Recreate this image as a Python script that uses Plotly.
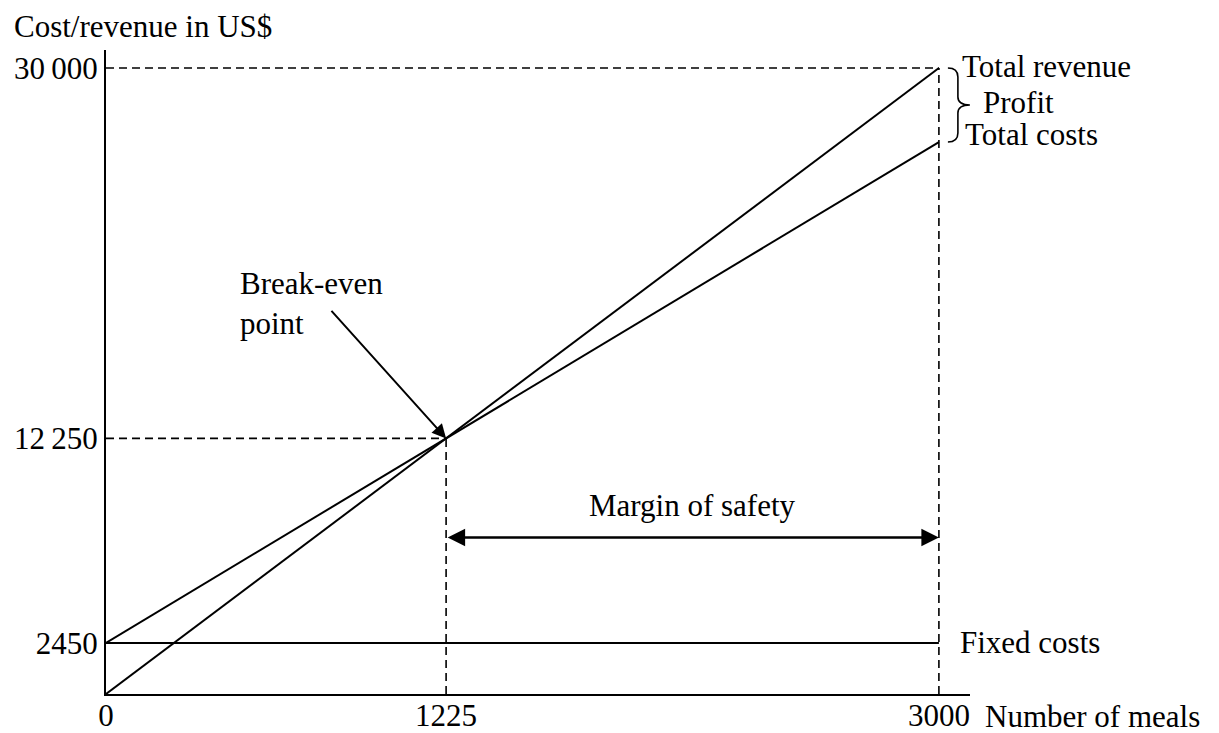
import plotly.graph_objects as go

# ---- data ----
meals = [0, 1225, 3000]
total_revenue = [0, 12250, 30000]
total_costs = [2450, 12250, 26450]
fixed_costs = [2450, 2450, 2450]

break_even_meals = 1225
break_even_value = 12250
max_meals = 3000
max_revenue = 30000

x_tick_vals = [0, 1225, 3000]
x_tick_text = ["0", "1225", "3000"]
y_tick_vals = [2450, 12250, 30000]
y_tick_text = ["2450", "12\u2009250", "30\u2009000"]

FONT = "Liberation Serif"
FS = 31
BLACK = "#000000"

fig = go.Figure()

# dashed guide lines
dash_style = dict(color=BLACK, width=1.6, dash="8px,5px")
fig.add_trace(go.Scatter(x=[0, max_meals], y=[max_revenue, max_revenue], mode="lines",
                         line=dash_style, hoverinfo="skip", showlegend=False))
fig.add_trace(go.Scatter(x=[max_meals, max_meals], y=[0, max_revenue], mode="lines",
                         line=dash_style, hoverinfo="skip", showlegend=False))
fig.add_trace(go.Scatter(x=[0, break_even_meals], y=[break_even_value, break_even_value], mode="lines",
                         line=dash_style, hoverinfo="skip", showlegend=False))
fig.add_trace(go.Scatter(x=[break_even_meals, break_even_meals], y=[0, break_even_value], mode="lines",
                         line=dash_style, hoverinfo="skip", showlegend=False))

# main lines
solid = dict(color=BLACK, width=2)
fig.add_trace(go.Scatter(x=meals, y=fixed_costs, mode="lines", line=solid, name="Fixed costs", showlegend=False))
fig.add_trace(go.Scatter(x=meals, y=total_costs, mode="lines", line=solid, name="Total costs", showlegend=False))
fig.add_trace(go.Scatter(x=meals, y=total_revenue, mode="lines", line=solid, name="Total revenue", showlegend=False))

font = dict(family=FONT, size=FS, color=BLACK)
ann = []

# axis titles
ann.append(dict(text="Cost/revenue in US$", xref="paper", yref="paper", x=0, y=1,
                xanchor="left", yanchor="middle", xshift=-94, yshift=24, showarrow=False, font=font))
ann.append(dict(text="Number of meals", x=max_meals, y=0, xanchor="left", yanchor="middle",
                xshift=44, yshift=-22, showarrow=False, font=font))

# right-hand labels
ann.append(dict(text="Total revenue", x=max_meals, y=total_revenue[-1], xanchor="left", yanchor="middle",
                xshift=21, yshift=2, showarrow=False, font=font))
ann.append(dict(text="Total costs", x=max_meals, y=total_costs[-1], xanchor="left", yanchor="middle",
                xshift=24, yshift=8, showarrow=False, font=font))
ann.append(dict(text="Profit", x=max_meals, y=(total_revenue[-1] + total_costs[-1]) / 2,
                xanchor="left", yanchor="middle", xshift=42, yshift=3, showarrow=False, font=font))
ann.append(dict(text="Fixed costs", x=max_meals, y=fixed_costs[-1], xanchor="left", yanchor="middle",
                xshift=19, yshift=0, showarrow=False, font=font))

# break-even label and arrow
ann.append(dict(text="Break-even<br>point", x=break_even_meals, y=break_even_value,
                xanchor="left", yanchor="middle", align="left", xshift=-208, yshift=135,
                showarrow=False, font=font))
ann.append(dict(text="", x=break_even_meals, y=break_even_value, ax=-116, ay=-129,
                showarrow=True, arrowhead=2, arrowsize=1.4, arrowwidth=2, arrowcolor=BLACK, standoff=0))

# margin of safety double arrow
mos_y = 7500
ann.append(dict(text="", x=max_meals, y=mos_y, ax=break_even_meals, ay=mos_y, axref="x", ayref="y",
                showarrow=True, arrowhead=2, startarrowhead=2, arrowside="end+start",
                arrowsize=1.4, startarrowsize=1.4, arrowwidth=2.5, arrowcolor=BLACK, standoff=0, startstandoff=0))
ann.append(dict(text="Margin of safety", x=(break_even_meals + max_meals) / 2, y=mos_y,
                xanchor="center", yanchor="middle", yshift=32, showarrow=False, font=font))

# curly brace for profit
h = 37
brace = (f"M 9,{h} Q 19,{h} 19,{h-9} L 19,8 Q 19,0 31,0 "
         f"Q 19,0 19,-8 L 19,{-(h-9)} Q 19,{-h} 9,{-h}")
shapes = [dict(type="path", xref="x", yref="y", xsizemode="pixel", ysizemode="pixel",
               xanchor=max_meals, yanchor=(total_revenue[-1] + total_costs[-1]) / 2,
               path=brace, line=dict(color=BLACK, width=1.6))]

# the page body adds an 8px offset, so the figure is 8px smaller on each side
fig.update_layout(
    width=1211, height=725,
    margin=dict(l=98, r=249, t=42, b=39, autoexpand=False),
    paper_bgcolor="white", plot_bgcolor="white",
    font=font,
    annotations=ann,
    shapes=shapes,
    showlegend=False,
    xaxis=dict(range=[0, 3112], showline=True, linecolor=BLACK, linewidth=2, showgrid=False,
               zeroline=False, ticks="", tickvals=x_tick_vals, ticktext=x_tick_text,
               tickfont=font, fixedrange=True, ticklabelstandoff=-7),
    yaxis=dict(range=[0, 30863], showline=True, linecolor=BLACK, linewidth=2, showgrid=False,
               zeroline=False, ticks="", tickvals=y_tick_vals, ticktext=y_tick_text,
               tickfont=font, fixedrange=True, ticklabelstandoff=0),
)

fig.write_html("out.html")
